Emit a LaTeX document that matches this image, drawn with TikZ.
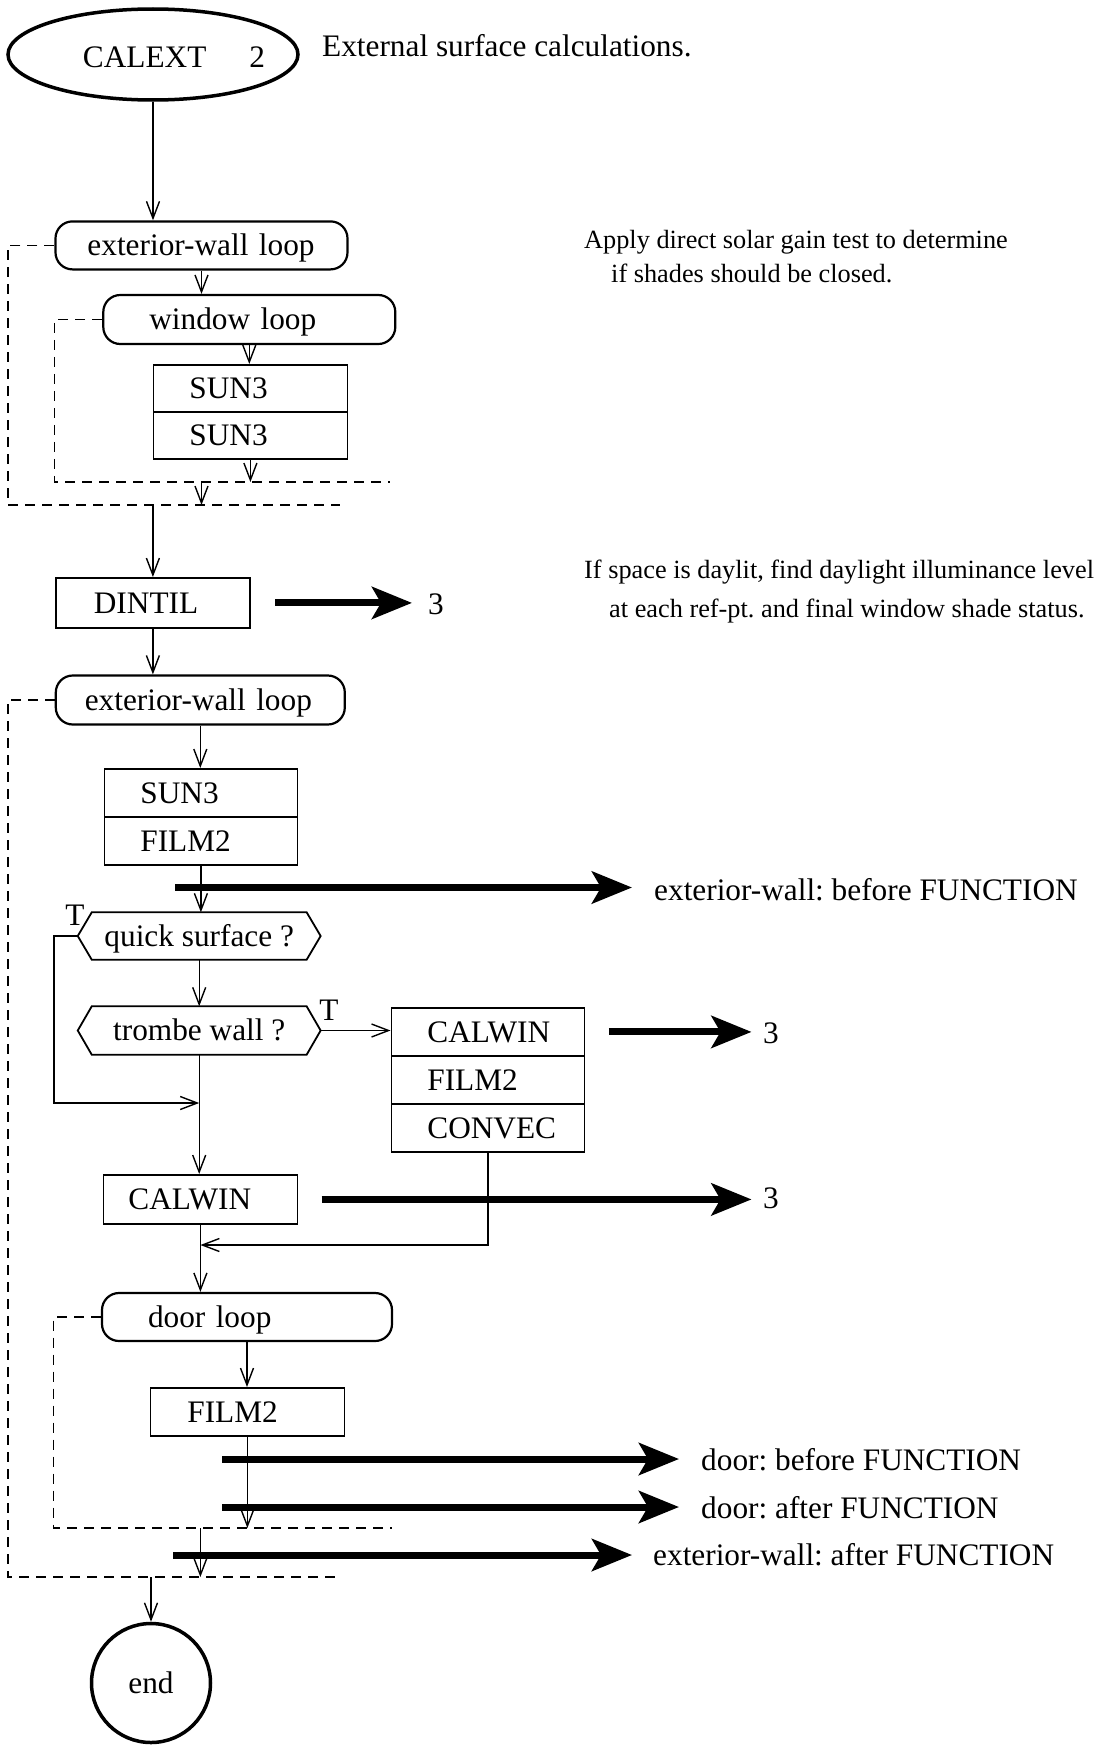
\documentclass[tikz,border=0pt]{standalone}
\usepackage{fontspec}
\setmainfont{Liberation Serif}
\usetikzlibrary{arrows.meta,shapes.geometric}
\newcommand\mystrut{\rule[-8pt]{0pt}{36.8pt}}
\newcommand\myhex[1]{\draw[line width=1.8pt] (#1.west) -- ([xshift=14pt]#1.north west) -- ([xshift=-14pt]#1.north east) -- (#1.east) -- ([xshift=-14pt]#1.south east) -- ([xshift=14pt]#1.south west) -- cycle;}
\begin{document}
\frenchspacing
\begin{tikzpicture}[x=1pt,y=-1pt,
  every node/.style={font=\fontsize{31.3pt}{37pt}\selectfont},
  arr/.style={line width=1.4pt, -{Straight Barb[length=17pt,width=13pt]}},
  fat/.style={line width=7pt, -{Stealth[length=40pt,width=32pt,inset=9pt]}},
  dashline/.style={line width=1.8pt, dash pattern=on 10pt off 7pt},
  cell/.style n args={3}{draw, line width=1.8pt, anchor=north west, inner sep=0pt,
     text width=#1, minimum height=#2, align=left, execute at begin node={\hspace*{#3}\mystrut}},
  loopbox/.style n args={3}{draw, line width=2.2pt, rounded corners=17pt, inner sep=0pt,
     text width=#1, minimum height=#2, align=left, execute at begin node={\hspace*{#3}\mystrut}},
  hexnode/.style={inner sep=0pt, minimum width=242.5pt, minimum height=#1, execute at begin node=\mystrut},
  lbl/.style={anchor=base west, inner sep=0pt},
  cmt/.style={anchor=base west, inner sep=0pt, font=\fontsize{26.3pt}{31pt}\selectfont}]
\useasboundingbox (0,0) rectangle (1102,1745);

% nodes
\node[draw, ellipse, line width=3.5pt, minimum width=290pt, minimum height=91pt, inner sep=0pt] (calext) at (153,54.5) {};
\node[inner sep=0pt] (calexttxt) at (174,57.5) {\mystrut CALEXT\hspace{43pt}2};
\node[lbl] (ext) at (322,57) {External surface calculations.};

\node[loopbox={292pt}{48pt}{32pt}] (ewl1) at (201.5,245.4) {exterior-wall loop};
\node[loopbox={292pt}{49pt}{46pt}] (win) at (249.3,319.5) {window loop};
\node[cell={194pt}{47pt}{36pt}] (sun3a) at (152.5,364) {SUN3};
\node[cell={194pt}{47pt}{36pt}] (sun3b) at (152.5,411) {SUN3};

\node[cmt] (c1a) at (584,248) {Apply direct solar gain test to determine};
\node[cmt] (c1b) at (611,282) {if shades should be closed.};

\node[cell={194pt}{50pt}{38pt}] (dintil) at (55,577) {DINTIL};
\node[lbl] (three1) at (428,614) {3};
\node[cmt] (c2a) at (584,578) {If space is daylit, find daylight illuminance level};
\node[cmt] (c2b) at (609,617) {at each ref-pt. and final window shade status.};

\node[loopbox={289pt}{49pt}{29pt}] (ewl2) at (200.3,700) {exterior-wall loop};
\node[cell={193pt}{48pt}{36pt}] (sf1) at (103.5,768) {SUN3};
\node[cell={193pt}{48pt}{36pt}] (sf2) at (103.5,816) {FILM2};
\node[lbl] (lblA) at (654,900) {exterior-wall: before FUNCTION};

\node[hexnode=47pt] (qs) at (199.2,936) {quick surface ?};
\myhex{qs}
\node[lbl, anchor=base] (T1) at (75,925) {T};
\node[hexnode=48pt] (tw) at (199.2,1030.5) {trombe wall ?};
\myhex{tw}
\node[lbl, anchor=base] (T2) at (329,1020) {T};

\node[cell={193pt}{48pt}{36pt}] (cw3a) at (390.5,1007) {CALWIN};
\node[cell={193pt}{48pt}{36pt}] (cw3b) at (390.5,1055) {FILM2};
\node[cell={193pt}{48pt}{36pt}] (cw3c) at (390.5,1103) {CONVEC};
\node[lbl] (three2) at (763,1043) {3};

\node[cell={194pt}{49pt}{25pt}] (cw2) at (102.5,1174) {CALWIN};
\node[lbl] (three3) at (763,1208) {3};

\node[loopbox={290pt}{48pt}{46pt}] (door) at (247,1317) {door loop};
\node[cell={194pt}{48pt}{37pt}] (film) at (149.5,1387) {FILM2};
\node[lbl] (lblB) at (701,1470) {door: before FUNCTION};
\node[lbl] (lblC) at (701,1518) {door: after FUNCTION};
\node[lbl] (lblD) at (653,1565) {exterior-wall: after FUNCTION};

\node[draw, circle, line width=3.5pt, minimum size=119pt, inner sep=0pt] (endc) at (151,1683) {\mystrut end};

% coordinates
\coordinate (o1bl) at (8,505);
\coordinate (o1end) at (340,505);
\coordinate (i1bl) at (54.5,482);
\coordinate (i1end) at (390,482);
\coordinate (o2bl) at (8,1577);
\coordinate (o2end) at (340,1577);
\coordinate (i2bl) at (53.5,1528);
\coordinate (i2end) at (392,1528);
\coordinate (byp) at (54,1103);
\coordinate (ret) at (487,1245);
\coordinate (b1s) at (175,887.5);
\coordinate (b2s) at (222,1459);
\coordinate (b3s) at (222,1507);
\coordinate (b4s) at (173,1555);

% dashed loops
\draw[dashline] (ewl1.west) -| (o1bl) -- (o1end);
\draw[dashline] (win.west) -| (i1bl) -- (i1end);
\draw[dashline] (ewl2.west) -| (o2bl) -- (o2end);
\draw[dashline] (door.west) -| (i2bl) -- (i2end);

% thin connectors
\draw[arr] (calext.south) -- (calext.south |- ewl1.north);
\draw[arr] (ewl1.south) -- (ewl1.south |- win.north);
\draw[arr] (win.south) -- (win.south |- sun3a.north);
\draw[arr] (sun3b.south) -- (sun3b.south |- i1end);
\draw[arr] (ewl1.south |- i1end) -- (ewl1.south |- o1end);
\draw[arr] (dintil.north |- o1end) -- (dintil.north);
\draw[arr] (dintil.south) -- (dintil.south |- ewl2.north);
\draw[arr] (ewl2.south) -- (ewl2.south |- sf1.north);
\draw[arr] (sf2.south) -- (sf2.south |- qs.north);
\draw[arr] (qs.south) -- (tw.north);
\draw[arr] (qs.west) -| (byp) -- (tw.south |- byp);
\draw[arr] (tw.east) -- (tw.east -| cw3a.west);
\draw[arr] (tw.south) -- (tw.south |- cw2.north);
\draw[arr] (cw3c.south) |- (cw2.south |- ret);
\draw[arr] (cw2.south) -- (cw2.south |- door.north);
\draw[arr] (door.south) -- (door.south |- film.north);
\draw[arr] (film.south) -- (film.south |- i2end);
\draw[arr] (cw2.south |- i2end) -- (cw2.south |- o2end);
\draw[arr] (endc.north |- o2end) -- (endc.north);

% thick arrows
\draw[fat] ([xshift=24.5pt]dintil.east) -- ([xshift=-16pt]three1.west |- dintil.east);
\draw[fat] ([xshift=23.5pt]cw3a.east) -- ([xshift=-11.5pt]three2.west |- cw3a.east);
\draw[fat] ([xshift=23.4pt]cw2.east) -- ([xshift=-11.5pt]three3.west |- cw2.east);
\draw[fat] (b1s) -- ([xshift=-22pt]lblA.west |- b1s);
\draw[fat] (b2s) -- ([xshift=-22pt]lblB.west |- b2s);
\draw[fat] (b3s) -- ([xshift=-22pt]lblC.west |- b3s);
\draw[fat] (b4s) -- ([xshift=-21pt]lblD.west |- b4s);
\end{tikzpicture}
\end{document}
